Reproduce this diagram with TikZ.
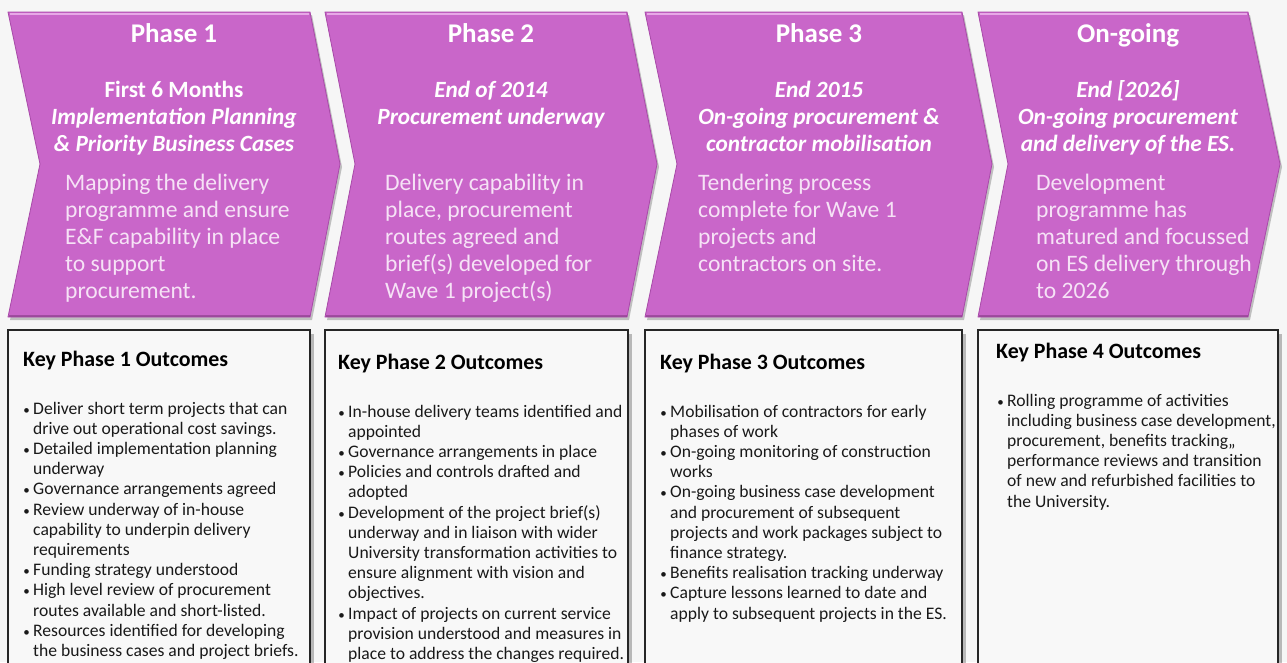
\documentclass[tikz,border=0pt]{standalone}
\usepackage{fontspec}
\setmainfont{Carlito}
\definecolor{chevfill}{HTML}{C966C9}
\definecolor{chevedge}{HTML}{A84AA8}
\definecolor{chevhi}{HTML}{E7A8E7}
\definecolor{bodytxt}{HTML}{F6E2F6}
\definecolor{bg}{HTML}{F6F6F6}
\definecolor{boxfill}{HTML}{F8F8F8}
\tikzset{
  chev/.style={fill=chevfill, draw=chevedge, line width=0.8pt, line join=miter},
  chevshadow/.style={fill=black, opacity=0.22},
  phasetitle/.style={inner sep=0pt, anchor=base, text=white, font=\fontsize{27}{30}\selectfont\bfseries},
  subtitle/.style={inner sep=0pt, anchor=base, text=white, font=\fontsize{23.3}{27}\selectfont\bfseries},
  subtitleit/.style={subtitle, font=\fontsize{23.3}{27}\selectfont\bfseries\itshape},
  chevbody/.style={inner sep=0pt, anchor=base west, text=bodytxt, font=\fontsize{23.6}{27}\selectfont},
  outbox/.style={fill=boxfill, draw=black!85, line width=1.4pt},
  boxshadow/.style={fill=black, opacity=0.25},
  boxtitle/.style={inner sep=0pt, anchor=base west, text=black, font=\fontsize{21.9}{26}\selectfont\bfseries},
  outtxt/.style={inner sep=0pt, anchor=base west, text=black!90, font=\fontsize{17.6}{20.2}\selectfont},
  bul/.style={inner sep=0pt, anchor=base, text=black!90, font=\fontsize{13}{15}\selectfont}
}
\newcommand\chevlines[4]{% name, x, y0, list
  \foreach \t [count=\i] in {#4} {
    \node[chevbody] (#1-\i) at ({#2},{#3+27*(\i-1)}) {\t};
  }}
\newcommand\outlines[4]{% name, x, y0, list of flag/text
  \foreach \b/\t [count=\i] in {#4} {
    \node[outtxt] (#1-\i) at ({#2},{#3+20.2*(\i-1)}) {\t};
    \ifnum\b=1
      \node[bul] (#1-b\i) at ({#2-6.5},{#3+20.2*(\i-1)}) {\textbullet};
    \fi
  }}
\begin{document}
\begin{tikzpicture}[x=1pt,y=-1pt]
\useasboundingbox (0,0) rectangle (1287,662);
\fill[bg] (0,0) rectangle (1287,662);
\clip (0,0) rectangle (1287,662);

% chevrons: shadows
\foreach \a/\b/\c/\d in {8/310/340/40, 325/627/657/355, 645/962/992/677, 978/1248/1280/1008} {
  \fill[chevshadow] (\a+2,15) -- (\b+2,15) -- (\c+2,167) -- (\b+2,320) -- (\a+2,320) -- (\d+2,167) -- cycle;
}
% chevrons
\foreach \a/\b/\c/\d in {8/310/340/40, 325/627/657/355, 645/962/992/677, 978/1248/1280/1008} {
  \draw[chev] (\a,12) -- (\b,12) -- (\c,164) -- (\b,317) -- (\a,317) -- (\d,164) -- cycle;
  \draw[chevhi, line width=2pt] (\a+1.5,13.5) -- (\b-1,13.5);
  \draw[chevedge!80!black, line width=1.6pt, opacity=0.6] (\a+1,316) -- (\b-0.5,316);
}

% chevron 1
\node[phasetitle] (p1) at (174,42) {Phase 1};
\node[subtitle] (p1s1) at (174,97) {First 6 Months};
\node[subtitleit] (p1s2) at (174,124) {Implementation Planning};
\node[subtitleit] (p1s3) at (174,151) {\& Priority Business Cases};
\chevlines{p1b}{65}{190}{{Mapping the delivery},{programme and ensure},{E\&F capability in place},{to support},{procurement.}}

% chevron 2
\node[phasetitle] (p2) at (491,42) {Phase 2};
\node[subtitleit] (p2s1) at (491,97) {End of 2014};
\node[subtitleit] (p2s2) at (491,124) {Procurement underway};
\chevlines{p2b}{385}{190}{{Delivery capability in},{place, procurement},{routes agreed and},{brief(s) developed for},{Wave 1 project(s)}}

% chevron 3
\node[phasetitle] (p3) at (819,42) {Phase 3};
\node[subtitleit] (p3s1) at (819,97) {End 2015};
\node[subtitleit] (p3s2) at (819,124) {On-going procurement \&};
\node[subtitleit] (p3s3) at (819,151) {contractor mobilisation};
\chevlines{p3b}{698}{190}{{Tendering process},{complete for Wave 1},{projects and},{contractors on site.}}

% chevron 4
\node[phasetitle] (p4) at (1128,42) {On-going};
\node[subtitleit] (p4s1) at (1128,97) {End [2026]};
\node[subtitleit] (p4s2) at (1128,124) {On-going procurement};
\node[subtitleit] (p4s3) at (1128,151) {and delivery of the ES.};
\chevlines{p4b}{1036}{190}{{Development},{programme has},{matured and focussed},{on ES delivery through},{to 2026}}

% outcome boxes
\foreach \a/\b in {8/310, 325/628, 645/962, 978/1278} {
  \fill[boxshadow] (\b,334) rectangle (\b+4,670);
  \draw[outbox] (\a,330) rectangle (\b,670);
}

\node[boxtitle] (k1) at (23,366) {Key Phase 1 Outcomes};
\outlines{o1}{33}{414}{1/{Deliver short term projects that can},0/{drive out operational cost savings.},1/{Detailed implementation planning},0/{underway},1/{Governance arrangements agreed},1/{Review underway of in-house},0/{capability to underpin delivery},0/{requirements},1/{Funding strategy understood},1/{High level review of procurement},0/{routes available and short-listed.},1/{Resources identified for developing},0/{the business cases and project briefs.}}

\node[boxtitle] (k2) at (338,369) {Key Phase 2 Outcomes};
\outlines{o2}{348}{417}{1/{In-house delivery teams identified and},0/{appointed},1/{Governance arrangements in place},1/{Policies and controls drafted and},0/{adopted},1/{Development of the project brief(s)},0/{underway and in liaison with wider},0/{University transformation activities to},0/{ensure alignment with vision and},0/{objectives.},1/{Impact of projects on current service},0/{provision understood and measures in},0/{place to address the changes required.}}

\node[boxtitle] (k3) at (660,369) {Key Phase 3 Outcomes};
\outlines{o3}{670}{417}{1/{Mobilisation of contractors for early},0/{phases of work},1/{On-going monitoring of construction},0/{works},1/{On-going business case development},0/{and procurement of subsequent},0/{projects and work packages subject to},0/{finance strategy.},1/{Benefits realisation tracking underway},1/{Capture lessons learned to date and},0/{apply to subsequent projects in the ES.}}

\node[boxtitle] (k4) at (996,358) {Key Phase 4 Outcomes};
\outlines{o4}{1007}{406}{1/{Rolling programme of activities},0/{including business case development,},0/{procurement, benefits tracking,,},0/{performance reviews and transition},0/{of new and refurbished facilities to},0/{the University.}}
\end{tikzpicture}
\end{document}
